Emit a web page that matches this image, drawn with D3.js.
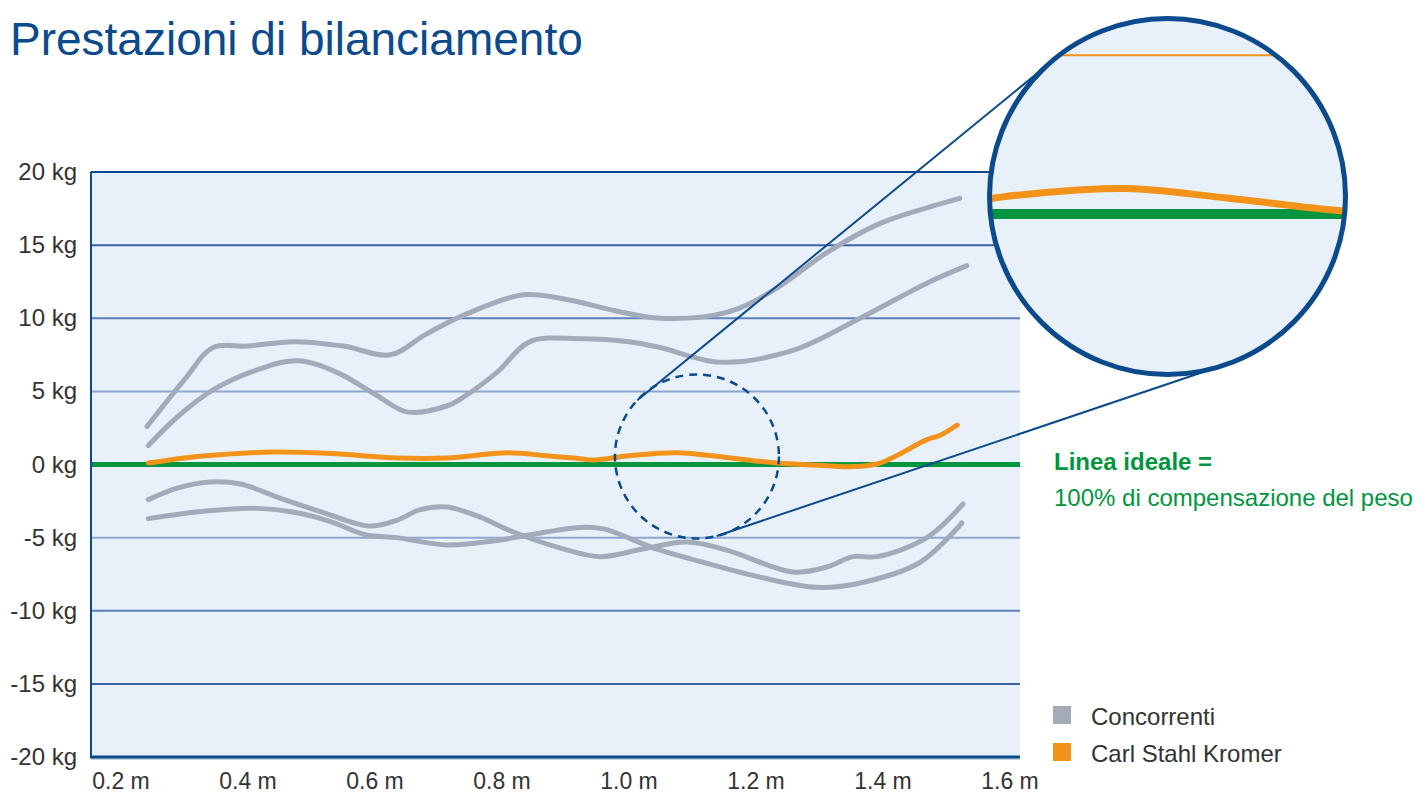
<!DOCTYPE html>
<html>
<head>
<meta charset="utf-8">
<script src="https://cdn.jsdelivr.net/npm/d3@7/dist/d3.min.js"></script>
<style>
  body { margin: 0; background: #fff; }
  text { font-family: "Liberation Sans", Arial, sans-serif; }
</style>
</head>
<body>
<div id="chart"></div>
<script>
// values (x in m, y in kg)
var yTicks = [20, 15, 10, 5, 0, -5, -10, -15, -20];
var xTicks = [0.2, 0.4, 0.6, 0.8, 1.0, 1.2, 1.4, 1.6];

var concorrenteA = [[0.241, 2.6], [0.30, 5.8], [0.345, 8.0], [0.40, 8.1], [0.471, 8.4], [0.55, 8.1],
  [0.624, 7.5], [0.68, 8.9], [0.739, 10.2], [0.833, 11.6], [0.90, 11.3], [0.98, 10.5], [1.049, 10.0],
  [1.154, 10.4], [1.227, 11.9], [1.312, 14.5], [1.391, 16.4], [1.45, 17.3], [1.521, 18.2]];
var concorrenteB = [[0.243, 1.3], [0.29, 3.3], [0.345, 5.1], [0.41, 6.4], [0.477, 7.1], [0.540, 6.3],
  [0.60, 4.8], [0.650, 3.6], [0.713, 4.0], [0.739, 4.6], [0.792, 6.3], [0.844, 8.4], [0.923, 8.6],
  [1.00, 8.4], [1.049, 8.0], [1.143, 7.0], [1.258, 7.8], [1.364, 10.0], [1.469, 12.4], [1.532, 13.6]];
var concorrenteC = [[0.243, -2.4], [0.29, -1.6], [0.340, -1.2], [0.39, -1.35], [0.450, -2.3], [0.52, -3.3],
  [0.590, -4.2], [0.635, -3.8], [0.67, -3.1], [0.713, -2.9], [0.76, -3.5], [0.817, -4.6], [0.891, -5.7],
  [0.954, -6.3], [1.02, -5.8], [1.091, -5.3], [1.154, -5.85], [1.258, -7.35], [1.312, -7.0],
  [1.353, -6.3], [1.391, -6.3], [1.469, -5.0], [1.526, -2.7]];
var concorrenteD = [[0.243, -3.7], [0.33, -3.2], [0.414, -3.0], [0.477, -3.3], [0.53, -3.9], [0.585, -4.8],
  [0.634, -5.0], [0.713, -5.5], [0.792, -5.2], [0.844, -4.8], [0.923, -4.3], [0.96, -4.4], [1.038, -5.7],
  [1.101, -6.5], [1.206, -7.7], [1.296, -8.4], [1.364, -8.1], [1.458, -6.7], [1.524, -4.0]];
var carlStahl = [[0.243, 0.1], [0.30, 0.45], [0.35, 0.65], [0.439, 0.85], [0.53, 0.75], [0.635, 0.45],
  [0.713, 0.45], [0.808, 0.8], [0.87, 0.6], [0.923, 0.4], [0.943, 0.3], [1.00, 0.6], [1.076, 0.8],
  [1.15, 0.5], [1.233, 0.1], [1.30, -0.05], [1.348, -0.15], [1.395, 0.1], [1.469, 1.7], [1.49, 2.0],
  [1.517, 2.7]];
var idealLine = [[0.05, 0], [1.65, 0]];

var legendLabels = ["Concorrenti", "Carl Stahl Kromer"];

(function () {
  var width = 1425, height = 796;
  var plotLeft = 91, plotRight = 1020, plotTop = 172, plotBottom = 757;
  var blue = "#0b4a8c", grey = "#a3abbb", orange = "#f39319", green = "#009640", bg = "#e8f1fa";

  var x = d3.scaleLinear().domain([0.2, 1.6]).range([121, 1010]);
  var y = d3.scaleLinear().domain([-20, 20]).range([plotBottom, plotTop]);

  var svg = d3.select("#chart").append("svg")
      .attr("width", width)
      .attr("height", height);

  var defs = svg.append("defs");
  defs.append("clipPath").attr("id", "plotclip")
      .append("rect").attr("x", plotLeft).attr("y", plotTop)
      .attr("width", plotRight - plotLeft).attr("height", plotBottom - plotTop);

  svg.append("text")
      .attr("x", 10).attr("y", 55)
      .attr("fill", blue)
      .style("font-size", "46px")
      .text("Prestazioni di bilanciamento");

  svg.append("rect")
      .attr("x", plotLeft).attr("y", plotTop)
      .attr("width", plotRight - plotLeft).attr("height", plotBottom - plotTop)
      .attr("fill", bg);

  var gridColor = function (v) {
    var a = Math.abs(v);
    if (a === 15) return "#3a62a2";
    if (a === 10) return "#5f7fb8";
    return "#8fa6d0";
  };

  svg.append("g").selectAll("line")
      .data(yTicks.filter(function (v) { return Math.abs(v) !== 20 && v !== 0; }))
      .enter().append("line")
      .attr("x1", plotLeft).attr("x2", plotRight)
      .attr("y1", function (d) { return y(d); })
      .attr("y2", function (d) { return y(d); })
      .attr("stroke", gridColor)
      .attr("stroke-width", 2);

  var line = d3.line()
      .x(function (d) { return x(d[0]); })
      .y(function (d) { return y(d[1]); })
      .curve(d3.curveCatmullRom.alpha(0.5));

  svg.append("g").attr("clip-path", "url(#plotclip)")
      .append("path").datum(idealLine)
      .attr("d", d3.line().x(function (d) { return x(d[0]); }).y(function (d) { return y(d[1]); }))
      .attr("stroke", green).attr("stroke-width", 5).attr("fill", "none");

  svg.append("g").selectAll("path")
      .data([concorrenteA, concorrenteB, concorrenteC, concorrenteD])
      .enter().append("path")
      .attr("d", line)
      .attr("fill", "none")
      .attr("stroke", grey)
      .attr("stroke-width", 5)
      .attr("stroke-linecap", "round");

  svg.append("path").datum(carlStahl)
      .attr("d", line)
      .attr("fill", "none")
      .attr("stroke", orange)
      .attr("stroke-width", 5)
      .attr("stroke-linecap", "round");

  // axes frame
  svg.append("line").attr("x1", plotLeft).attr("x2", plotRight).attr("y1", plotTop).attr("y2", plotTop)
      .attr("stroke", blue).attr("stroke-width", 2);
  svg.append("line").attr("x1", plotLeft).attr("x2", plotLeft).attr("y1", plotTop).attr("y2", plotBottom)
      .attr("stroke", blue).attr("stroke-width", 2);
  svg.append("line").attr("x1", plotLeft).attr("x2", plotRight).attr("y1", plotBottom + 2).attr("y2", plotBottom + 2)
      .attr("stroke", "#c9d3e0").attr("stroke-width", 2);
  svg.append("line").attr("x1", plotLeft - 1).attr("x2", plotRight).attr("y1", plotBottom).attr("y2", plotBottom)
      .attr("stroke", blue).attr("stroke-width", 3);

  // magnifier
  var lens = { cx: x(1.107), cy: y(0.55), r: 82 };
  var big = { cx: 1167.5, cy: 196.5, r: 178 };
  var k = big.r / lens.r;

  svg.append("circle")
      .attr("cx", lens.cx).attr("cy", lens.cy).attr("r", lens.r)
      .attr("fill", "none").attr("stroke", blue)
      .attr("stroke-width", 2.5).attr("stroke-dasharray", "8,6");

  var rad = Math.PI / 180;
  var connectors = [[-136.7, -127.2], [76, 74.5]];
  svg.append("g").selectAll("line").data(connectors).enter().append("line")
      .attr("x1", function (d) { return lens.cx + lens.r * Math.cos(d[0] * rad); })
      .attr("y1", function (d) { return lens.cy + lens.r * Math.sin(d[0] * rad); })
      .attr("x2", function (d) { return big.cx + big.r * Math.cos(d[1] * rad); })
      .attr("y2", function (d) { return big.cy + big.r * Math.sin(d[1] * rad); })
      .attr("stroke", blue).attr("stroke-width", 2);

  defs.append("clipPath").attr("id", "bigclip")
      .append("circle").attr("cx", big.cx).attr("cy", big.cy).attr("r", big.r);

  svg.append("circle")
      .attr("cx", big.cx).attr("cy", big.cy).attr("r", big.r)
      .attr("fill", bg);

  var xz = d3.scaleLinear().domain(x.domain())
      .range(x.range().map(function (p) { return big.cx + (p - lens.cx) * k; }));
  var yz = d3.scaleLinear().domain(y.domain())
      .range(y.range().map(function (p) { return big.cy + (p - lens.cy) * k; }));
  var lineZ = d3.line()
      .x(function (d) { return xz(d[0]); })
      .y(function (d) { return yz(d[1]); })
      .curve(d3.curveCatmullRom.alpha(0.5));

  var mag = svg.append("g").attr("clip-path", "url(#bigclip)");
  mag.append("line")
      .attr("x1", big.cx - big.r).attr("x2", big.cx + big.r)
      .attr("y1", yz(5)).attr("y2", yz(5))
      .attr("stroke", orange).attr("stroke-width", 2);
  mag.append("path").datum(idealLine)
      .attr("d", d3.line().x(function (d) { return xz(d[0]); }).y(function (d) { return yz(d[1]); }))
      .attr("stroke", green).attr("stroke-width", 10).attr("fill", "none");
  mag.append("path").datum(carlStahl)
      .attr("d", lineZ)
      .attr("fill", "none").attr("stroke", orange).attr("stroke-width", 7);

  svg.append("circle")
      .attr("cx", big.cx).attr("cy", big.cy).attr("r", big.r)
      .attr("fill", "none").attr("stroke", blue).attr("stroke-width", 5);

  // tick labels
  svg.append("g").selectAll("text").data(yTicks).enter().append("text")
      .attr("x", 77)
      .attr("y", function (d) { return y(d) + 8; })
      .attr("text-anchor", "end")
      .attr("fill", "#333")
      .style("font-size", "24px")
      .text(function (d) { return d + " kg"; });

  svg.append("g").selectAll("text").data(xTicks).enter().append("text")
      .attr("x", function (d) { return x(d); })
      .attr("y", 789)
      .attr("text-anchor", "middle")
      .attr("fill", "#333")
      .style("font-size", "23px")
      .text(function (d) { return d.toFixed(1) + " m"; });

  // ideal line note
  svg.append("text")
      .attr("x", 1054).attr("y", 470)
      .attr("fill", green)
      .style("font-size", "24px").style("font-weight", "bold")
      .text("Linea ideale =");
  svg.append("text")
      .attr("x", 1054).attr("y", 506)
      .attr("fill", green)
      .style("font-size", "24px")
      .text("100% di compensazione del peso");

  // legend
  var legend = svg.append("g").selectAll("g")
      .data(legendLabels).enter().append("g")
      .attr("transform", function (d, i) { return "translate(1053," + (706 + i * 37) + ")"; });
  legend.append("rect")
      .attr("width", 18).attr("height", 18)
      .attr("fill", function (d, i) { return i === 0 ? grey : orange; });
  legend.append("text")
      .attr("x", 38).attr("y", 19)
      .attr("fill", "#333")
      .style("font-size", "24px")
      .text(function (d) { return d; });
})();
</script>
</body>
</html>
